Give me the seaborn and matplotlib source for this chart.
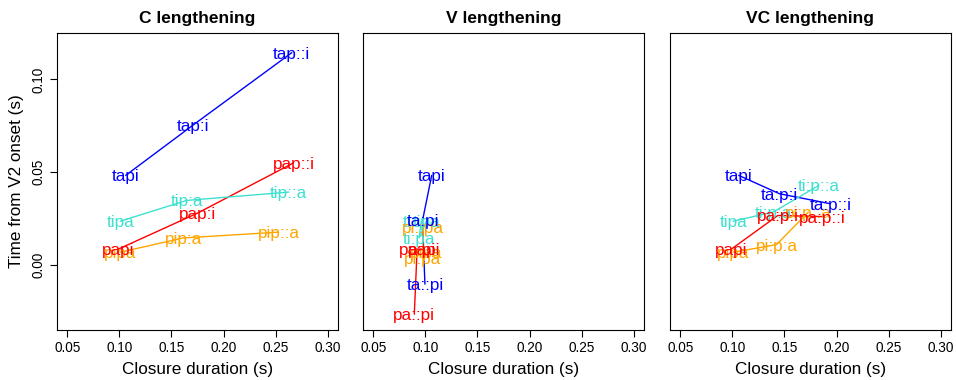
import matplotlib
matplotlib.use("Agg")
import matplotlib.pyplot as plt
import seaborn as sns
import pandas as pd

# Panels and series
panel_titles = ["C lengthening", "V lengthening", "VC lengthening"]
series_order = ["ta", "pa", "ti", "pi"]
series_colors = {"ta": "#0000FF", "pa": "#FF0000", "ti": "#40E0D0", "pi": "#FFA500"}
series_z = {"ti": 3, "pi": 4, "pa": 5, "ta": 6}

# Each panel: 3 tokens per series (ta, pa, ti, pi), in plotting order
c_words = ["tapi", "tap:i", "tap::i",
           "papi", "pap:i", "pap::i",
           "tipa", "tip:a", "tip::a",
           "pipa", "pip:a", "pip::a"]
c_closure = [0.106, 0.1705, 0.2656,
             0.099, 0.1748, 0.2672,
             0.1007, 0.1646, 0.2627,
             0.1008, 0.1612, 0.2528]
c_time = [0.0483, 0.0753, 0.1144,
          0.0086, 0.0279, 0.0550,
          0.0236, 0.0348, 0.0393,
          0.0069, 0.0146, 0.0177]

v_words = ["tapi", "ta:pi", "ta::pi",
           "papi", "pa:pi", "pa::pi",
           "tipa", "ti:pa", "ti::pa",
           "pipa", "pi:pa", "pi::pa"]
v_closure = [0.106, 0.0972, 0.0995,
             0.099, 0.092, 0.0893,
             0.1007, 0.094, 0.096,
             0.1008, 0.097, 0.098]
v_time = [0.0483, 0.0240, -0.0103,
          0.0086, 0.0086, -0.0265,
          0.0236, 0.0146, 0.0235,
          0.0069, 0.0038, 0.0207]

vc_words = ["tapi", "ta:p:i", "ta:p::i",
            "papi", "pa:p:i", "pa:p::i",
            "tipa", "ti:p:a", "ti:p::a",
            "pipa", "pi:p:a", "pi:p::a"]
vc_closure = [0.106, 0.1452, 0.1942,
              0.099, 0.1436, 0.1868,
              0.1007, 0.1394, 0.183,
              0.1008, 0.1423, 0.1729]
vc_time = [0.0483, 0.0384, 0.0330,
           0.0086, 0.0267, 0.0261,
           0.0236, 0.0286, 0.0429,
           0.0069, 0.0110, 0.0285]

x_ticks = [0.05, 0.10, 0.15, 0.20, 0.25, 0.30]
y_ticks = [0.00, 0.05, 0.10]

series_col = [s for s in series_order for _ in range(3)]
frames = []
for title, w, cl, tm in zip(panel_titles,
                            [c_words, v_words, vc_words],
                            [c_closure, v_closure, vc_closure],
                            [c_time, v_time, vc_time]):
    frames.append(pd.DataFrame({"panel": title, "series": series_col,
                                "word": w, "closure": cl, "time": tm}))
df = pd.concat(frames, ignore_index=True)

sns.set_style("white")
plt.rcParams["font.family"] = ["Liberation Sans", "DejaVu Sans"]
plt.rcParams.update({
    "axes.linewidth": 0.8,
    "text.color": "black",
    "axes.labelcolor": "black",
    "xtick.color": "black",
    "ytick.color": "black",
    "axes.edgecolor": "black",
})

fig = plt.figure(figsize=(9.56, 3.8), dpi=100)
lefts = [57 / 956, 363 / 956, 670 / 956]
bottom, width, height = 50 / 380, 281 / 956, 297 / 380

for i, (title, left) in enumerate(zip(panel_titles, lefts)):
    ax = fig.add_axes([left, bottom, width, height])
    sub = df[df["panel"] == title]
    sns.lineplot(data=sub, x="closure", y="time", hue="series",
                 hue_order=series_order, palette=series_colors,
                 sort=False, estimator=None, legend=False, lw=1, ax=ax)
    for _, r in sub.iterrows():
        ax.text(r["closure"], r["time"], r["word"], color=series_colors[r["series"]],
                ha="center", va="center_baseline", fontsize=12.3,
                zorder=series_z[r["series"]])
    ax.set_xlim(0.04, 0.31)
    ax.set_ylim(-0.035, 0.125)
    ax.set_xticks(x_ticks)
    ax.set_xticklabels([f"{t:.2f}" for t in x_ticks])
    ax.set_title(title, fontsize=12.5, fontweight="bold", pad=7, color="black")
    ax.set_xlabel("Closure duration (s)", fontsize=12.3, labelpad=5)
    ax.tick_params(axis="x", direction="out", length=5, width=0.8,
                   labelsize=9.8, pad=3, bottom=True, color="black",
                   labelcolor="black")
    if i == 0:
        ax.set_yticks(y_ticks)
        ax.set_yticklabels([f"{t:.2f}" for t in y_ticks], rotation=90, va="center")
        ax.tick_params(axis="y", direction="out", length=5, width=0.8,
                       labelsize=9.8, pad=3, left=True, color="black",
                       labelcolor="black")
        ax.set_ylabel("Time from V2 onset (s)", fontsize=12.3, labelpad=6)
    else:
        ax.set_yticks([])
        ax.set_ylabel("")

fig.savefig("out.png", dpi=100)
